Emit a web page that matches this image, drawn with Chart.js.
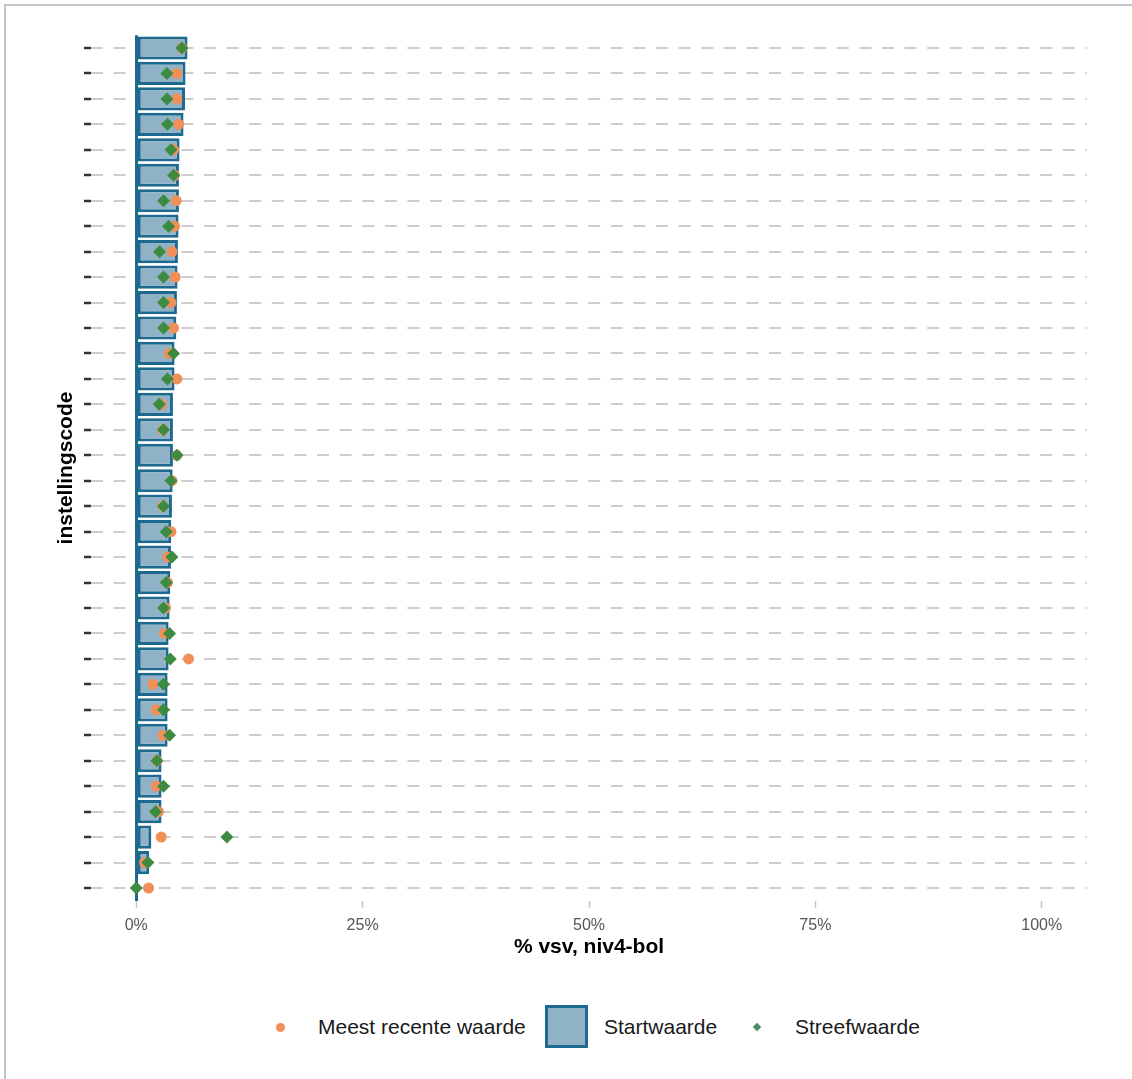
<!DOCTYPE html>
<html>
<head>
<meta charset="utf-8">
<script src="https://cdn.jsdelivr.net/npm/chart.js@4"></script>
<style>
  html, body { margin: 0; padding: 0; background: #fff; overflow: hidden; }
  body { width: 1132px; height: 1079px; position: relative; font-family: "Liberation Sans", Arial, sans-serif; }
  #frame { position: absolute; left: 4px; top: 4px; width: 1200px; height: 1200px;
           border-left: 2px solid #c2c6ca; border-top: 2px solid #c2c6ca; }
  #chart { position: absolute; left: 0; top: 0; }
  .lg { position: absolute; }
  .lg-txt { top: 1014px; height: 26px; line-height: 26px; font-size: 21px; color: #1a1a1a; white-space: nowrap; }
  .lg-dot { left: 276px; top: 1023px; width: 9px; height: 9px; border-radius: 50%; background: #f09058; }
  .lg-box { left: 545px; top: 1005px; width: 43px; height: 43px; box-sizing: border-box;
            border: 3px solid #1d6990; background: #8fb2c7; }
  .lg-dia { left: 754px; top: 1024px; width: 6px; height: 6px; background: #4f8a5f; transform: rotate(45deg); }
</style>
</head>
<body>
<div id="frame"></div>
<canvas id="chart" width="1132" height="960"></canvas>
<div class="lg lg-dot"></div>
<div class="lg lg-txt" style="left:318px">Meest recente waarde</div>
<div class="lg lg-box"></div>
<div class="lg lg-txt" style="left:604px">Startwaarde</div>
<div class="lg lg-dia"></div>
<div class="lg lg-txt" style="left:795px">Streefwaarde</div>

<script>
'use strict';

// institution codes (not shown on the axis in the original)
const codes = [
  'I01', 'I02', 'I03', 'I04', 'I05', 'I06', 'I07', 'I08', 'I09', 'I10',
  'I11', 'I12', 'I13', 'I14', 'I15', 'I16', 'I17', 'I18', 'I19', 'I20',
  'I21', 'I22', 'I23', 'I24', 'I25', 'I26', 'I27', 'I28', 'I29', 'I30',
  'I31', 'I32', 'I33', 'I34'
];

// Startwaarde (%)
const startValues = [
  5.66, 5.44, 5.38, 5.22, 4.78, 4.71, 4.71, 4.67, 4.60, 4.56,
  4.49, 4.42, 4.23, 4.23, 4.05, 4.05, 4.05, 4.02, 3.94, 3.86,
  3.83, 3.75, 3.68, 3.57, 3.57, 3.46, 3.46, 3.46, 2.79, 2.79,
  2.79, 1.66, 1.43, 0
];

// Meest recente waarde (%)
const recentValues = [
  5.04, 4.49, 4.49, 4.67, 4.12, 4.23, 4.41, 4.23, 3.94, 4.30,
  3.83, 4.12, 3.61, 4.49, 2.76, 2.95, 4.49, 3.94, 2.95, 3.83,
  3.45, 3.45, 3.23, 3.09, 5.77, 1.84, 2.21, 2.95, 2.28, 2.21,
  2.46, 2.76, 0.92, 1.36
];

// Streefwaarde (%)
const targetValues = [
  5.04, 3.39, 3.39, 3.45, 3.83, 4.12, 3.01, 3.57, 2.57, 3.01,
  3.01, 3.01, 4.12, 3.45, 2.54, 3.01, 4.49, 3.83, 3.01, 3.31,
  3.94, 3.31, 3.01, 3.68, 3.75, 3.01, 3.01, 3.68, 2.28, 3.01,
  2.13, 10.01, 1.29, 0
];

const xTicks = [0, 25, 50, 75, 100];

const BAR_FILL = '#8fb2c7';
const BAR_EDGE = '#1d6990';
const ORANGE = '#f09058';
const GREEN = '#3d8b40';

Chart.defaults.font.family = '"Liberation Sans", Arial, sans-serif';

new Chart(document.getElementById('chart'), {
  type: 'bar',
  data: {
    labels: codes,
    datasets: [
      {
        label: 'Startwaarde',
        data: startValues,
        backgroundColor: BAR_FILL,
        borderColor: BAR_EDGE,
        borderWidth: 3,
        borderSkipped: false,
        barPercentage: 0.91,
        categoryPercentage: 1,
        minBarLength: 3,
        order: 3
      },
      {
        type: 'line',
        label: 'Meest recente waarde',
        data: recentValues.map((v, i) => ({ x: v, y: codes[i] })),
        showLine: false,
        pointStyle: 'circle',
        pointRadius: 5.5,
        pointBackgroundColor: ORANGE,
        pointBorderWidth: 0,
        order: 2
      },
      {
        type: 'line',
        label: 'Streefwaarde',
        data: targetValues.map((v, i) => ({ x: v, y: codes[i] })),
        showLine: false,
        pointStyle: 'rectRot',
        pointRadius: 6.5,
        pointBackgroundColor: GREEN,
        pointBorderWidth: 0,
        order: 1
      }
    ]
  },
  options: {
    indexAxis: 'y',
    responsive: false,
    animation: false,
    devicePixelRatio: 1,
    events: [],
    layout: { padding: { top: 35.27, right: 45, left: 0, bottom: 0 } },
    plugins: {
      legend: { display: false },
      tooltip: { enabled: false }
    },
    scales: {
      y: {
        type: 'category',
        offset: true,
        ticks: { display: false },
        grid: {
          offset: false,
          color: '#cdcdcd',
          lineWidth: 2,
          tickColor: '#333333',
          tickLength: 7,
          tickWidth: 2.5,
          tickBorderDash: []
        },
        border: { display: false, dash: [12, 10.6] },
        title: {
          display: true,
          text: 'instellingscode',
          color: '#000',
          font: { size: 21, weight: 'bold' },
          padding: { top: 54, bottom: 0 }
        },
        afterFit: s => { s.width = 91; }
      },
      x: {
        type: 'linear',
        min: -5,
        max: 105,
        afterBuildTicks: s => { s.ticks = xTicks.map(v => ({ value: v })); },
        ticks: {
          color: '#555555',
          font: { size: 16 },
          padding: 8,
          callback: v => v + '%'
        },
        grid: {
          color: ctx => (ctx.tick && ctx.tick.value === 0 ? BAR_EDGE : 'rgba(0,0,0,0)'),
          lineWidth: 3,
          tickColor: '#c4c4c4',
          tickLength: 7,
          tickWidth: 1.5
        },
        border: { display: false },
        title: {
          display: true,
          text: '% vsv, niv4-bol',
          color: '#000',
          font: { size: 21, weight: 'bold' },
          padding: { top: 4, bottom: 0 }
        },
        afterFit: s => { s.height = 59.27; }
      }
    }
  }
});
</script>
</body>
</html>
